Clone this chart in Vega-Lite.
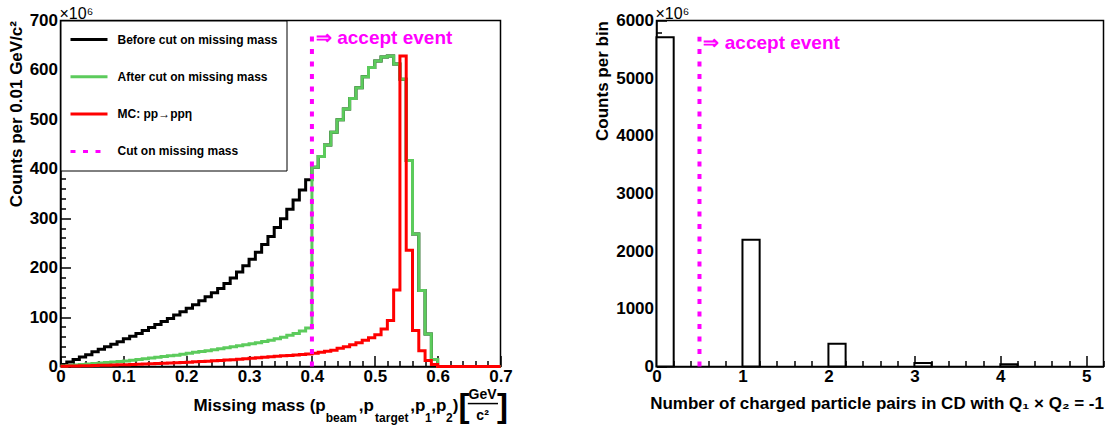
{
  "$schema": "https://vega.github.io/schema/vega-lite/v6.json",
  "background": "white",
  "padding": {"left": 5.5, "top": 4.5, "right": 5, "bottom": 0},
  "spacing": 156,
  "bounds": "flush",
  "config": {
    "font": "Liberation Sans",
    "view": {"stroke": "black", "strokeWidth": 1.5},
    "axis": {
      "domainColor": "black", "domainWidth": 1.5, "tickColor": "black", "tickWidth": 1.5, "ticks": true,
      "labelFont": "Liberation Sans", "labelFontWeight": "bold", "labelFontSize": 17, "labelColor": "black",
      "titleFont": "Liberation Sans", "titleFontWeight": "bold", "titleFontSize": 17, "titleColor": "black",
      "grid": false, "labelFlush": false, "labelOverlap": false, "zindex": 1
    },
    "legend": {
      "fillColor": "white", "strokeColor": "black", "padding": 8.5,
      "symbolType": "stroke", "symbolSize": 1369, "symbolStrokeWidth": 3,
      "labelFont": "Liberation Sans", "labelFontWeight": "bold", "labelFontSize": 12, "labelColor": "black",
      "labelOffset": 8.5, "rowPadding": 16.3, "clipHeight": 21, "labelLimit": 400
    }
  },
  "hconcat": [
    {
      "width": 440,
      "height": 346,
      "data": {"values": [
        {"m":0.00,"before":4,"after":1,"mc":0.5},
        {"m":0.01,"before":9,"after":2,"mc":0.8},
        {"m":0.02,"before":14,"after":3,"mc":1},
        {"m":0.03,"before":19,"after":4,"mc":1.3},
        {"m":0.04,"before":24,"after":5,"mc":1.6},
        {"m":0.05,"before":30,"after":6,"mc":2},
        {"m":0.06,"before":35,"after":7,"mc":2.3},
        {"m":0.07,"before":40,"after":8,"mc":2.6},
        {"m":0.08,"before":45,"after":9,"mc":3},
        {"m":0.09,"before":50,"after":10,"mc":3.3},
        {"m":0.10,"before":56,"after":11,"mc":3.7},
        {"m":0.11,"before":61,"after":12.5,"mc":4.1},
        {"m":0.12,"before":67,"after":14,"mc":4.5},
        {"m":0.13,"before":73,"after":15.5,"mc":5},
        {"m":0.14,"before":79,"after":17,"mc":5.5},
        {"m":0.15,"before":85,"after":18.5,"mc":6},
        {"m":0.16,"before":91,"after":20,"mc":6.5},
        {"m":0.17,"before":97,"after":21.5,"mc":7},
        {"m":0.18,"before":104,"after":23,"mc":7.6},
        {"m":0.19,"before":111,"after":25,"mc":8.2},
        {"m":0.20,"before":118,"after":27,"mc":8.8},
        {"m":0.21,"before":125,"after":29,"mc":9.4},
        {"m":0.22,"before":133,"after":30.5,"mc":10},
        {"m":0.23,"before":141,"after":32,"mc":10.7},
        {"m":0.24,"before":149,"after":34,"mc":11.4},
        {"m":0.25,"before":158,"after":36,"mc":12.1},
        {"m":0.26,"before":168,"after":38,"mc":12.9},
        {"m":0.27,"before":179,"after":40,"mc":13.7},
        {"m":0.28,"before":191,"after":42,"mc":14.6},
        {"m":0.29,"before":204,"after":44,"mc":15.5},
        {"m":0.30,"before":217,"after":46,"mc":16.5},
        {"m":0.31,"before":231,"after":48,"mc":17.5},
        {"m":0.32,"before":247,"after":50.5,"mc":18.5},
        {"m":0.33,"before":263,"after":53,"mc":19.5},
        {"m":0.34,"before":281,"after":56,"mc":20.5},
        {"m":0.35,"before":299,"after":59,"mc":21.5},
        {"m":0.36,"before":318,"after":63,"mc":22.5},
        {"m":0.37,"before":337,"after":67,"mc":23.5},
        {"m":0.38,"before":357,"after":72,"mc":24.5},
        {"m":0.39,"before":378,"after":78,"mc":25.5},
        {"m":0.40,"before":403,"after":403,"mc":27},
        {"m":0.41,"before":425,"after":425,"mc":29},
        {"m":0.42,"before":448,"after":448,"mc":31},
        {"m":0.43,"before":474,"after":474,"mc":33},
        {"m":0.44,"before":499,"after":499,"mc":37},
        {"m":0.45,"before":521,"after":521,"mc":40},
        {"m":0.46,"before":542,"after":542,"mc":44},
        {"m":0.47,"before":564,"after":564,"mc":48},
        {"m":0.48,"before":586,"after":586,"mc":53},
        {"m":0.49,"before":605,"after":605,"mc":58},
        {"m":0.50,"before":618,"after":618,"mc":64},
        {"m":0.51,"before":626,"after":626,"mc":76},
        {"m":0.52,"before":628,"after":628,"mc":93},
        {"m":0.53,"before":612,"after":612,"mc":155},
        {"m":0.54,"before":581,"after":581,"mc":628},
        {"m":0.55,"before":417,"after":417,"mc":235},
        {"m":0.56,"before":268,"after":268,"mc":73},
        {"m":0.57,"before":154,"after":154,"mc":32},
        {"m":0.58,"before":66,"after":66,"mc":12},
        {"m":0.59,"before":14,"after":14,"mc":4},
        {"m":0.60,"before":0,"after":0,"mc":0},
        {"m":0.61,"before":0,"after":0,"mc":0},
        {"m":0.62,"before":0,"after":0,"mc":0},
        {"m":0.63,"before":0,"after":0,"mc":0},
        {"m":0.64,"before":0,"after":0,"mc":0},
        {"m":0.65,"before":0,"after":0,"mc":0},
        {"m":0.66,"before":0,"after":0,"mc":0},
        {"m":0.67,"before":0,"after":0,"mc":0},
        {"m":0.68,"before":0,"after":0,"mc":0},
        {"m":0.69,"before":0,"after":0,"mc":0},
        {"m":0.70,"before":0,"after":0,"mc":0}
      ]},
      "layer": [
        {
          "transform": [{"fold": ["before", "after", "mc"], "as": ["series", "counts"]}],
          "encoding": {
            "x": {"field": "m", "type": "quantitative",
              "scale": {"domain": [0, 0.7], "nice": false, "zero": false},
              "axis": {
                "title": null,
                "labelOverlap": false,
                "tickCount": 200,
                "values": [0,0.02,0.04,0.06,0.08,0.1,0.12,0.14,0.16,0.18,0.2,0.22,0.24,0.26,0.28,0.3,0.32,0.34,0.36,0.38,0.4,0.42,0.44,0.46,0.48,0.5,0.52,0.54,0.56,0.58,0.6,0.62,0.64,0.66,0.68,0.7],
                "labelExpr": "abs(datum.value*10 - round(datum.value*10)) < 0.001 ? (datum.value == 0 ? '0' : format(datum.value, '.1f')) : ''",
                "tickSize": {"condition": {"test": "abs(datum.value*10 - round(datum.value*10)) < 0.001", "value": -11}, "value": -6},
                "labelPadding": 13
              }
            },
            "y": {"field": "counts", "type": "quantitative",
              "scale": {"domain": [0, 700], "nice": false},
              "axis": {
                "title": "Counts per 0.01 GeV/c²",
                "titleAnchor": "end",
                "titlePadding": 4,
                "labelOverlap": false,
                "tickCount": 200,
                "values": [0,20,40,60,80,100,120,140,160,180,200,220,240,260,280,300,320,340,360,380,400,420,440,460,480,500,520,540,560,580,600,620,640,660,680,700],
                "labelExpr": "datum.value % 100 == 0 ? format(datum.value, 'd') : ''",
                "tickSize": {"condition": {"test": "datum.value % 100 == 0", "value": -10}, "value": -5},
                "labelPadding": 13
              }
            },
            "color": {"field": "series", "type": "nominal",
              "scale": {"domain": ["before", "after", "mc", "cut"], "range": ["#000000", "#5ccb5c", "#ff0000", "#ff00ff"]},
              "legend": {"title": null, "orient": "none", "legendX": 0, "legendY": 0,
                "labelExpr": "datum.value == 'before' ? 'Before cut on missing mass' : datum.value == 'after' ? 'After cut on missing mass' : datum.value == 'mc' ? 'MC: pp→ppη' : 'Cut on missing mass'"}
            },
            "strokeDash": {"field": "series", "type": "nominal",
              "scale": {"domain": ["before", "after", "mc", "cut"], "range": [[1, 0], [1, 0], [1, 0], [5, 7.5]]},
              "legend": {"title": null, "orient": "none", "legendX": 0, "legendY": 0,
                "labelExpr": "datum.value == 'before' ? 'Before cut on missing mass' : datum.value == 'after' ? 'After cut on missing mass' : datum.value == 'mc' ? 'MC: pp→ppη' : 'Cut on missing mass'"}
            }
          },
          "layer": [
            {"transform": [{"filter": "datum.series == 'before'"}], "mark": {"type": "line", "interpolate": "step-after", "strokeWidth": 3}},
            {"transform": [{"filter": "datum.series == 'after'"}], "mark": {"type": "line", "interpolate": "step-after", "strokeWidth": 3}},
            {"transform": [{"filter": "datum.series == 'mc'"}], "mark": {"type": "line", "interpolate": "step-after", "strokeWidth": 3}}
          ]
        },
        {
          "data": {"values": [{}]},
          "mark": {"type": "rule", "color": "#ff00ff", "strokeWidth": 4, "strokeDash": [5, 7.5], "strokeCap": "butt"},
          "encoding": {
            "x": {"datum": 0.4, "type": "quantitative"},
            "y": {"datum": 0, "type": "quantitative"},
            "y2": {"datum": 674}
          }
        },
        {
          "data": {"values": [{}]},
          "mark": {"type": "text", "text": "⇒ accept event", "color": "#ff00ff", "fontSize": 19, "fontWeight": "bold", "align": "left", "baseline": "middle", "dx": 4},
          "encoding": {"x": {"datum": 0.4, "type": "quantitative"}, "y": {"datum": 665, "type": "quantitative"}}
        },
        {
          "data": {"values": [{}]},
          "mark": {"type": "text", "text": "×10⁶", "color": "black", "fontSize": 16, "align": "left", "baseline": "alphabetic", "dy": -2, "dx": -1},
          "encoding": {"x": {"datum": 0, "type": "quantitative"}, "y": {"datum": 700, "type": "quantitative"}}
        },
        {
          "data": {"values": [{}]},
          "mark": {"type": "text", "text": "Missing mass (p", "color": "black", "fontSize": 17, "fontWeight": "bold", "align": "right", "baseline": "alphabetic", "dy": 44},
          "encoding": {"x": {"datum": 0.4219, "type": "quantitative"}, "y": {"datum": 0, "type": "quantitative"}}
        },
        {
          "data": {"values": [{}]},
          "mark": {"type": "text", "text": "beam", "color": "black", "fontSize": 12, "fontWeight": "bold", "align": "left", "baseline": "alphabetic", "dy": 55},
          "encoding": {"x": {"datum": 0.4219, "type": "quantitative"}, "y": {"datum": 0, "type": "quantitative"}}
        },
        {
          "data": {"values": [{}]},
          "mark": {"type": "text", "text": ",p", "color": "black", "fontSize": 17, "fontWeight": "bold", "align": "left", "baseline": "alphabetic", "dy": 44},
          "encoding": {"x": {"datum": 0.4746, "type": "quantitative"}, "y": {"datum": 0, "type": "quantitative"}}
        },
        {
          "data": {"values": [{}]},
          "mark": {"type": "text", "text": "target", "color": "black", "fontSize": 12, "fontWeight": "bold", "align": "left", "baseline": "alphabetic", "dy": 55},
          "encoding": {"x": {"datum": 0.5004, "type": "quantitative"}, "y": {"datum": 0, "type": "quantitative"}}
        },
        {
          "data": {"values": [{}]},
          "mark": {"type": "text", "text": ",p", "color": "black", "fontSize": 17, "fontWeight": "bold", "align": "left", "baseline": "alphabetic", "dy": 44},
          "encoding": {"x": {"datum": 0.5566, "type": "quantitative"}, "y": {"datum": 0, "type": "quantitative"}}
        },
        {
          "data": {"values": [{}]},
          "mark": {"type": "text", "text": "1", "color": "black", "fontSize": 12, "fontWeight": "bold", "align": "left", "baseline": "alphabetic", "dy": 55},
          "encoding": {"x": {"datum": 0.5800, "type": "quantitative"}, "y": {"datum": 0, "type": "quantitative"}}
        },
        {
          "data": {"values": [{}]},
          "mark": {"type": "text", "text": ",p", "color": "black", "fontSize": 17, "fontWeight": "bold", "align": "left", "baseline": "alphabetic", "dy": 44},
          "encoding": {"x": {"datum": 0.5900, "type": "quantitative"}, "y": {"datum": 0, "type": "quantitative"}}
        },
        {
          "data": {"values": [{}]},
          "mark": {"type": "text", "text": "2", "color": "black", "fontSize": 12, "fontWeight": "bold", "align": "left", "baseline": "alphabetic", "dy": 55},
          "encoding": {"x": {"datum": 0.6134, "type": "quantitative"}, "y": {"datum": 0, "type": "quantitative"}}
        },
        {
          "data": {"values": [{}]},
          "mark": {"type": "text", "text": ")", "color": "black", "fontSize": 17, "fontWeight": "bold", "align": "left", "baseline": "alphabetic", "dy": 44},
          "encoding": {"x": {"datum": 0.6240, "type": "quantitative"}, "y": {"datum": 0, "type": "quantitative"}}
        },
        {
          "data": {"values": [{}]},
          "mark": {"type": "text", "text": "[", "color": "black", "fontSize": 33, "fontWeight": "bold", "align": "left", "baseline": "alphabetic", "dy": 50},
          "encoding": {"x": {"datum": 0.6330, "type": "quantitative"}, "y": {"datum": 0, "type": "quantitative"}}
        },
        {
          "data": {"values": [{}]},
          "mark": {"type": "text", "text": "GeV", "color": "black", "fontSize": 14, "fontWeight": "bold", "align": "center", "baseline": "alphabetic", "dy": 32},
          "encoding": {"x": {"datum": 0.6715, "type": "quantitative"}, "y": {"datum": 0, "type": "quantitative"}}
        },
        {
          "data": {"values": [{}]},
          "mark": {"type": "rule", "color": "black", "strokeWidth": 1.5},
          "encoding": {"x": {"datum": 0.648, "type": "quantitative"}, "x2": {"datum": 0.696}, "y": {"datum": -75, "type": "quantitative"}}
        },
        {
          "data": {"values": [{}]},
          "mark": {"type": "text", "text": "c²", "color": "black", "fontSize": 14, "fontWeight": "bold", "align": "center", "baseline": "alphabetic", "dy": 53},
          "encoding": {"x": {"datum": 0.6715, "type": "quantitative"}, "y": {"datum": 0, "type": "quantitative"}}
        },
        {
          "data": {"values": [{}]},
          "mark": {"type": "text", "text": "]", "color": "black", "fontSize": 33, "fontWeight": "bold", "align": "left", "baseline": "alphabetic", "dy": 50},
          "encoding": {"x": {"datum": 0.6946, "type": "quantitative"}, "y": {"datum": 0, "type": "quantitative"}}
        }
      ]
    },
    {
      "width": 447,
      "height": 346,
      "data": {"values": [
        {"lo": 0, "hi": 0.2, "c": 5710},
        {"lo": 1, "hi": 1.2, "c": 2200},
        {"lo": 2, "hi": 2.2, "c": 395},
        {"lo": 3, "hi": 3.2, "c": 60},
        {"lo": 4, "hi": 4.2, "c": 40}
      ]},
      "layer": [
        {
          "mark": {"type": "rect", "fill": "white", "stroke": "black", "strokeWidth": 2},
          "encoding": {
            "x": {"field": "lo", "type": "quantitative",
              "scale": {"domain": [0, 5.2], "nice": false, "zero": false},
              "axis": {
                "title": "Number of charged particle pairs in CD with Q₁ × Q₂ = -1",
                "titleAnchor": "end",
                "titleFontSize": 17,
                "titlePadding": 6,
                "labelOverlap": false,
                "tickCount": 200,
                "values": [0,0.2,0.4,0.6,0.8,1,1.2,1.4,1.6,1.8,2,2.2,2.4,2.6,2.8,3,3.2,3.4,3.6,3.8,4,4.2,4.4,4.6,4.8,5,5.2],
                "labelExpr": "abs(datum.value - round(datum.value)) < 0.001 ? format(datum.value, 'd') : ''",
                "tickSize": {"condition": {"test": "abs(datum.value - round(datum.value)) < 0.001", "value": -11}, "value": -6},
                "labelPadding": 13
              }
            },
            "x2": {"field": "hi"},
            "y": {"field": "c", "type": "quantitative",
              "scale": {"domain": [0, 6000], "nice": false},
              "axis": {
                "title": "Counts per bin",
                "titleAnchor": "end",
                "titlePadding": 4,
                "labelOverlap": false,
                "tickCount": 200,
                "values": [0,200,400,600,800,1000,1200,1400,1600,1800,2000,2200,2400,2600,2800,3000,3200,3400,3600,3800,4000,4200,4400,4600,4800,5000,5200,5400,5600,5800,6000],
                "labelExpr": "datum.value % 1000 == 0 ? format(datum.value, 'd') : ''",
                "tickSize": {"condition": {"test": "datum.value % 1000 == 0", "value": -10}, "value": -5},
                "labelPadding": 13
              }
            },
            "y2": {"datum": 0}
          }
        },
        {
          "data": {"values": [{}]},
          "mark": {"type": "rule", "color": "#ff00ff", "strokeWidth": 4, "strokeDash": [5, 7.5], "strokeCap": "butt"},
          "encoding": {
            "x": {"datum": 0.5, "type": "quantitative"},
            "y": {"datum": 0, "type": "quantitative"},
            "y2": {"datum": 5720}
          }
        },
        {
          "data": {"values": [{}]},
          "mark": {"type": "text", "text": "⇒ accept event", "color": "#ff00ff", "fontSize": 19, "fontWeight": "bold", "align": "left", "baseline": "middle", "dx": 4},
          "encoding": {"x": {"datum": 0.5, "type": "quantitative"}, "y": {"datum": 5607, "type": "quantitative"}}
        },
        {
          "data": {"values": [{}]},
          "mark": {"type": "text", "text": "×10⁶", "color": "black", "fontSize": 16, "align": "left", "baseline": "alphabetic", "dy": -2, "dx": -1},
          "encoding": {"x": {"datum": 0, "type": "quantitative"}, "y": {"datum": 6000, "type": "quantitative"}}
        }
      ]
    }
  ]
}
